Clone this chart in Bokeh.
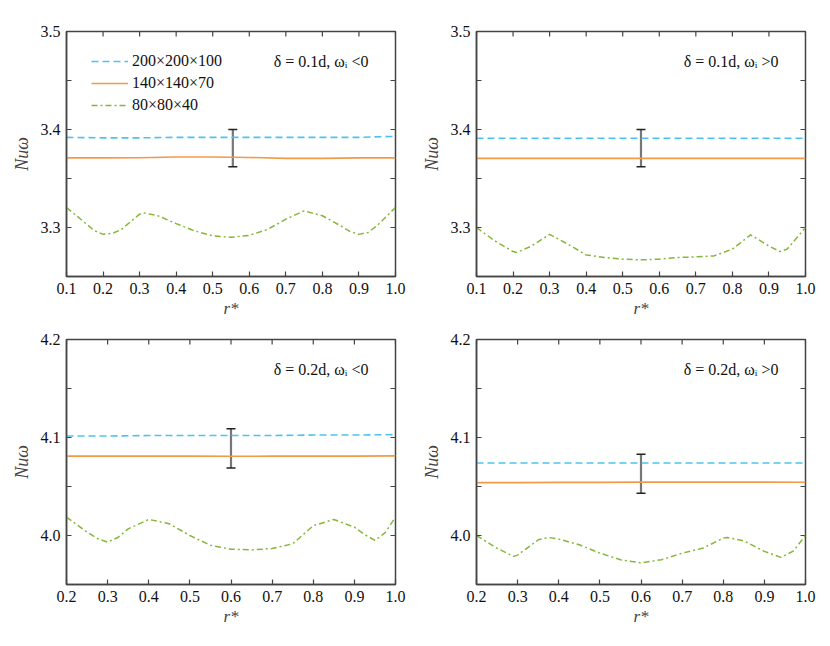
import math
from bokeh.plotting import figure
from bokeh.layouts import gridplot
from bokeh.models import (LinearAxis, FixedTicker, Legend, LegendItem, Label,
                          Whisker, TeeHead, ColumnDataSource, Range1d)
from bokeh.embed import file_html
from bokeh.resources import INLINE

# ---------------- data ----------------
mesh_labels = ["200×200×100", "140×140×70", "80×80×40"]
panel_titles = ["δ = 0.1d, ωᵢ <0", "δ = 0.1d, ωᵢ >0", "δ = 0.2d, ωᵢ <0", "δ = 0.2d, ωᵢ >0"]

# panel 1: delta=0.1d, omega<0
p1_x_flat = [0.1, 0.2, 0.3, 0.4, 0.5, 0.6, 0.7, 0.8, 0.9, 1.0]
p1_fine = [3.392, 3.3915, 3.3915, 3.392, 3.392, 3.392, 3.392, 3.392, 3.392, 3.393]
p1_mid = [3.371, 3.371, 3.3712, 3.372, 3.372, 3.3715, 3.3705, 3.3705, 3.371, 3.371]
p1_x_coarse = [0.10, 0.15, 0.175, 0.20, 0.225, 0.25, 0.30, 0.31, 0.35, 0.40, 0.45, 0.50, 0.55,
               0.60, 0.65, 0.70, 0.75, 0.80, 0.85, 0.875, 0.90, 0.925, 0.95, 1.00]
p1_coarse = [3.3204, 3.305, 3.297, 3.293, 3.294, 3.298, 3.3136, 3.315, 3.312, 3.304, 3.2966,
             3.2915, 3.290, 3.292, 3.298, 3.3085, 3.317, 3.312, 3.3017, 3.296, 3.293, 3.295,
             3.302, 3.3204]
p1_err = (0.555, 3.362, 3.400)

# panel 2: delta=0.1d, omega>0
p2_x_flat = [0.1, 0.2, 0.3, 0.4, 0.5, 0.6, 0.7, 0.8, 0.9, 1.0]
p2_fine = [3.391, 3.391, 3.391, 3.391, 3.391, 3.391, 3.391, 3.391, 3.391, 3.391]
p2_mid = [3.3705, 3.3705, 3.3705, 3.3705, 3.3705, 3.3705, 3.3705, 3.3705, 3.3705, 3.3705]
p2_x_coarse = [0.10, 0.15, 0.20, 0.21, 0.25, 0.30, 0.35, 0.40, 0.45, 0.50, 0.55,
               0.60, 0.65, 0.70, 0.75, 0.80, 0.85, 0.90, 0.93, 0.95, 1.00]
p2_coarse = [3.300, 3.2864, 3.2755, 3.2745, 3.281, 3.293, 3.283, 3.272, 3.2694, 3.2677, 3.267,
             3.2677, 3.2694, 3.270, 3.271, 3.278, 3.2925, 3.281, 3.2755, 3.278, 3.300]
p2_err = (0.55, 3.362, 3.400)

# panel 3: delta=0.2d, omega<0
p3_x_flat = [0.2, 0.3, 0.4, 0.5, 0.6, 0.7, 0.8, 0.9, 1.0]
p3_fine = [4.1015, 4.1015, 4.102, 4.102, 4.102, 4.102, 4.1025, 4.1025, 4.103]
p3_mid = [4.081, 4.081, 4.081, 4.081, 4.0808, 4.081, 4.081, 4.081, 4.0812]
p3_x_coarse = [0.20, 0.25, 0.275, 0.30, 0.325, 0.35, 0.40, 0.45, 0.50, 0.55, 0.60, 0.65,
               0.70, 0.75, 0.80, 0.85, 0.90, 0.925, 0.95, 0.975, 1.00]
p3_coarse = [4.0188, 4.0034, 3.997, 3.9932, 3.998, 4.0068, 4.0164, 4.012, 4.000, 3.990, 3.986,
             3.9853, 3.9867, 3.9915, 4.010, 4.0164, 4.0085, 4.001, 3.995, 4.003, 4.0188]
p3_err = (0.6, 4.069, 4.109)

# panel 4: delta=0.2d, omega>0
p4_x_flat = [0.2, 0.3, 0.4, 0.5, 0.6, 0.7, 0.8, 0.9, 1.0]
p4_fine = [4.074, 4.074, 4.074, 4.074, 4.074, 4.074, 4.074, 4.074, 4.074]
p4_mid = [4.054, 4.054, 4.0542, 4.0542, 4.0545, 4.0545, 4.0545, 4.0545, 4.0543]
p4_x_coarse = [0.20, 0.25, 0.29, 0.30, 0.35, 0.375, 0.40, 0.45, 0.50, 0.55, 0.60,
               0.65, 0.70, 0.75, 0.80, 0.81, 0.85, 0.90, 0.94, 0.97, 1.00]
p4_coarse = [4.000, 3.987, 3.9787, 3.980, 3.9956, 3.998, 3.9963, 3.9905, 3.982, 3.9753, 3.972,
             3.9753, 3.982, 3.987, 3.9973, 3.998, 3.9946, 3.9838, 3.9777, 3.984, 4.000]
p4_err = (0.6, 4.043, 4.083)

x_ticks_top = [0.1, 0.2, 0.3, 0.4, 0.5, 0.6, 0.7, 0.8, 0.9, 1.0]
x_labels_top = ["0.1", "0.2", "0.3", "0.4", "0.5", "0.6", "0.7", "0.8", "0.9", "1.0"]
x_ticks_bot = [0.2, 0.3, 0.4, 0.5, 0.6, 0.7, 0.8, 0.9, 1.0]
x_labels_bot = ["0.2", "0.3", "0.4", "0.5", "0.6", "0.7", "0.8", "0.9", "1.0"]
y_ticks_top = [3.3, 3.4, 3.5]
y_labels_top = ["3.3", "3.4", "3.5"]
y_minor_top = [3.35, 3.45]
y_ticks_bot = [4.0, 4.1, 4.2]
y_labels_bot = ["4.0", "4.1", "4.2"]
y_minor_bot = [3.95, 4.05, 4.15]

# ---------------- style ----------------
FONT = "Liberation Serif"
C_FINE = "#4cc3ee"
C_MID = "#f39a48"
C_COARSE = "#84b83a"
C_AX = "#444444"


def style_axis(ax):
    ax.axis_line_color = C_AX
    ax.axis_line_width = 1.5
    ax.major_tick_line_color = C_AX
    ax.minor_tick_line_color = C_AX
    ax.major_tick_line_width = 1.2
    ax.minor_tick_line_width = 1.2
    ax.major_tick_in = 5
    ax.major_tick_out = 0
    ax.minor_tick_in = 5
    ax.minor_tick_out = 0
    ax.major_label_text_font = FONT
    ax.major_label_text_color = "#111111"
    ax.major_label_text_font_size = "16px"
    ax.major_label_standoff = 6


def make_panel(xs_flat, fine, mid, xs_c, coarse, err, xr, yr, xt, xl, yt, yl, ym,
               title, legend, top_border, bottom_border):
    p = figure(frame_width=329, frame_height=245, output_backend="svg",
               toolbar_location=None, x_range=Range1d(*xr), y_range=Range1d(*yr),
               min_border_left=66, min_border_right=15, min_border_top=top_border,
               min_border_bottom=bottom_border, x_axis_type=None, y_axis_type=None)
    p.grid.visible = False
    p.outline_line_color = C_AX
    p.outline_line_width = 1.5
    p.background_fill_color = "white"
    p.border_fill_color = "white"

    xticker = FixedTicker(ticks=xt, minor_ticks=[])
    yticker = FixedTicker(ticks=yt, minor_ticks=ym)
    xover = {t: s for t, s in zip(xt, xl)}
    yover = {t: s for t, s in zip(yt, yl)}

    xb = LinearAxis(ticker=xticker, major_label_overrides=xover)
    style_axis(xb)
    xb.axis_label = "r*"
    xb.axis_label_text_font = FONT
    xb.axis_label_text_font_style = "italic"
    xb.axis_label_text_font_size = "17px"
    xb.axis_label_standoff = 2
    p.add_layout(xb, "below")

    yl_ax = LinearAxis(ticker=yticker, major_label_overrides=yover)
    style_axis(yl_ax)
    yl_ax.axis_label = "Nuω"
    yl_ax.axis_label_text_font = FONT
    yl_ax.axis_label_text_font_style = "italic"
    yl_ax.axis_label_text_font_size = "18px"
    yl_ax.axis_label_standoff = 6
    p.add_layout(yl_ax, "left")

    # mirrored inward ticks on the top and right frame edges (half clipped by the frame)
    p.scatter(xt, [yr[1]] * len(xt), marker="dash", size=10, angle=math.pi / 2,
              line_color=C_AX, line_width=1.2)
    yall = list(yt) + list(ym)
    p.scatter([xr[1]] * len(yall), yall, marker="dash", size=10,
              line_color=C_AX, line_width=1.2)

    r1 = p.line(xs_flat, fine, line_color=C_FINE, line_width=1.6, line_dash="7 4")
    r2 = p.line(xs_flat, mid, line_color=C_MID, line_width=1.6)
    r3 = p.line(xs_c, coarse, line_color=C_COARSE, line_width=1.5, line_dash="6 3 2 3",
                line_join="round")

    src = ColumnDataSource(data=dict(base=[err[0]], lower=[err[1]], upper=[err[2]]))
    w = Whisker(source=src, base="base", lower="lower", upper="upper",
                line_color="#777777", line_width=2.2,
                upper_head=TeeHead(size=9, line_color="#222222", line_width=1.5),
                lower_head=TeeHead(size=9, line_color="#222222", line_width=1.5))
    p.add_layout(w)

    lab = Label(x=xr[1], y=yr[1], x_offset=-27, y_offset=-30, text=title,
                text_align="right", text_baseline="middle", text_font=FONT,
                text_font_size="16px", text_color="#111111")
    p.add_layout(lab)

    if legend:
        lg = Legend(items=[LegendItem(label=mesh_labels[0], renderers=[r1]),
                           LegendItem(label=mesh_labels[1], renderers=[r2]),
                           LegendItem(label=mesh_labels[2], renderers=[r3])],
                    location=(25, 161), padding=0, margin=0, spacing=2,
                    glyph_width=37, glyph_height=20, label_standoff=4,
                    label_text_font=FONT, label_text_font_size="16px",
                    label_text_color="#111111", border_line_color=None,
                    background_fill_alpha=0)
        p.add_layout(lg)
    return p


f1 = make_panel(p1_x_flat, p1_fine, p1_mid, p1_x_coarse, p1_coarse, p1_err,
                (0.1, 1.0), (3.25, 3.5), x_ticks_top, x_labels_top,
                y_ticks_top, y_labels_top, y_minor_top, panel_titles[0], True, 31, 40)
f2 = make_panel(p2_x_flat, p2_fine, p2_mid, p2_x_coarse, p2_coarse, p2_err,
                (0.1, 1.0), (3.25, 3.5), x_ticks_top, x_labels_top,
                y_ticks_top, y_labels_top, y_minor_top, panel_titles[1], False, 31, 40)
f3 = make_panel(p3_x_flat, p3_fine, p3_mid, p3_x_coarse, p3_coarse, p3_err,
                (0.2, 1.0), (3.95, 4.2), x_ticks_bot, x_labels_bot,
                y_ticks_bot, y_labels_bot, y_minor_bot, panel_titles[2], False, 19, 40)
f4 = make_panel(p4_x_flat, p4_fine, p4_mid, p4_x_coarse, p4_coarse, p4_err,
                (0.2, 1.0), (3.95, 4.2), x_ticks_bot, x_labels_bot,
                y_ticks_bot, y_labels_bot, y_minor_bot, panel_titles[3], False, 19, 40)

grid = gridplot([[f1, f2], [f3, f4]], toolbar_location=None)

open("out.html", "w").write(file_html(grid, INLINE))
